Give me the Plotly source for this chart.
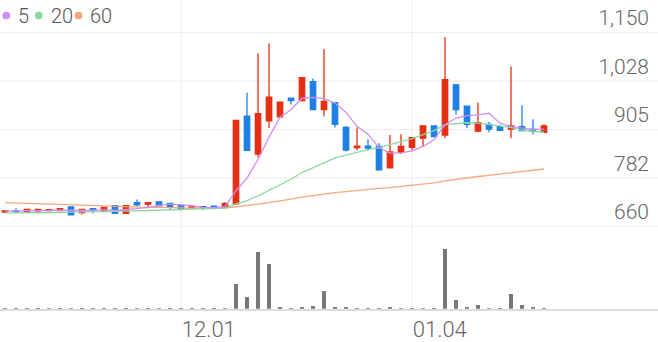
import plotly.graph_objects as go

# ---------------- data ----------------
opens = [696, 699, 697, 699, 700, 700, 709, 695, 705, 699,
         712, 693, 720, 716, 722, 718, 713, 707, 710, 711,
         708, 717, 939, 843, 927, 937, 984, 978, 1026, 955,
         973, 910, 859, 863, 862, 808, 848, 860, 883, 914,
         891, 1018, 964, 901, 918, 912, 906, 912, 905, 898]
highs = [701, 706, 704, 703, 702, 706, 709, 703, 706, 708,
         712, 712, 728, 721, 722, 718, 716, 712, 711, 712,
         721, 928, 998, 1098, 1123, 974, 984, 1036, 1034, 1108,
         973, 914, 910, 880, 870, 891, 893, 884, 914, 914,
         1139, 1020, 964, 973, 924, 916, 1064, 966, 931, 918]
lows = [693, 693, 693, 693, 698, 699, 689, 690, 693, 697,
        693, 693, 710, 706, 710, 704, 700, 705, 701, 703,
        706, 714, 852, 835, 909, 937, 968, 978, 955, 938,
        910, 849, 853, 852, 803, 806, 843, 853, 862, 887,
        883, 943, 908, 898, 898, 903, 883, 899, 893, 898]
closes = [699, 697, 703, 703, 702, 705, 689, 703, 701, 708,
          693, 712, 714, 720, 712, 710, 703, 710, 706, 707,
          718, 928, 852, 945, 987, 974, 978, 1036, 955, 976,
          918, 853, 863, 858, 803, 848, 862, 884, 914, 887,
          1031, 955, 918, 922, 906, 903, 914, 902, 900, 914]
ma5 = [699, 699, 699, 700, 700, 701, 700, 700, 700, 702,
       700, 702, 705, 708, 713, 716, 714, 712, 708, 707,
       710, 750, 782, 829, 885, 936, 955, 984, 986, 983,
       972, 948, 913, 893, 859, 845, 846, 851, 862, 879,
       917, 934, 940, 942, 946, 921, 912, 909, 905, 906]
ma20 = [694, 694, 694, 695, 695, 695, 696, 696, 697, 697,
        698, 698, 699, 700, 701, 702, 702, 703, 704, 705,
        706, 717, 725, 737, 751, 764, 779, 796, 808, 822,
        833, 840, 847, 854, 859, 866, 874, 882, 893, 902,
        917, 919, 922, 921, 917, 913, 910, 903, 901, 898]
ma60 = [720, 719, 718, 717, 716, 715, 714, 713, 712, 711,
        710, 709, 709, 708, 708, 707, 707, 706, 706, 706,
        706, 709, 712, 716, 720, 724, 729, 734, 738, 742,
        745, 748, 751, 754, 756, 758, 761, 764, 767, 770,
        775, 779, 782, 786, 789, 792, 796, 799, 802, 805]
volumes = [3, 2, 4, 3, 2, 3, 5, 3, 2, 4,
           5, 4, 6, 4, 5, 4, 3, 3, 2, 3,
           5, 256, 123, 573, 450, 17, 10, 23, 33, 183,
           20, 17, 10, 10, 13, 20, 13, 10, 7, 7,
           606, 90, 23, 40, 10, 7, 150, 43, 20, 7]
x_tick_idx = [16, 37]
x_tick_labels = ["12.01", "01.04"]
y_tick_vals = [660, 782.5, 905, 1027.5, 1150]
y_tick_labels = ["660", "782", "905", "1,028", "1,150"]
ma_periods = ["5", "20", "60"]
ma_colors = ["#cf8ff0", "#8cd9a0", "#f7a678"]

idx = list(range(len(closes)))

W, H = 658, 342
RED = "#e62e12"
BLUE = "#1c80e6"
FONT = "Roboto"
PX_PER_UNIT = 0.4
Y_BOTTOM_PX = 229.2
Y_MIN = 659.5

fig = go.Figure()

for vals, col in zip([ma60, ma20, ma5], [ma_colors[2], ma_colors[1], ma_colors[0]]):
    fig.add_trace(go.Scatter(x=idx, y=vals, mode="lines",
                             line=dict(color=col, width=1.3),
                             xaxis="x", yaxis="y", showlegend=False, hoverinfo="skip"))

fig.add_trace(go.Candlestick(
    x=idx, open=opens, high=highs, low=lows, close=closes,
    increasing=dict(line=dict(color=RED, width=1.3), fillcolor=RED),
    decreasing=dict(line=dict(color=BLUE, width=1.3), fillcolor=BLUE),
    whiskerwidth=0, xaxis="x", yaxis="y", showlegend=False))

fig.add_trace(go.Bar(x=idx, y=volumes, width=0.36, marker=dict(color="#777777", line=dict(width=0)),
                     xaxis="x2", yaxis="y2", showlegend=False))

xr = [-5 / 11, (W - 5) / 11]

shapes = []
for t in x_tick_idx:
    shapes.append(dict(type="line", xref="x", yref="paper", x0=t, x1=t,
                       y0=1 - 312.5 / H, y1=1, line=dict(color="#ececec", width=1), layer="below"))
for v in y_tick_vals:
    shapes.append(dict(type="line", xref="paper", yref="y", x0=0, x1=1, y0=v, y1=v,
                       line=dict(color="#ececec", width=1), layer="below"))

# legend dots
dot_cx = [6.3, 38.8, 78.5]
text_x = [15.5, 48.5, 87.5]
annotations = []
for cx, tx, lab, col in zip(dot_cx, text_x, ma_periods, ma_colors):
    r = 3.9
    shapes.append(dict(type="circle", xref="paper", yref="paper",
                       x0=(cx - r) / W, x1=(cx + r) / W,
                       y0=1 - (15.7 + r) / H, y1=1 - (15.7 - r) / H,
                       fillcolor=col, line=dict(width=0)))
    annotations.append(dict(text=lab, xref="paper", yref="paper", x=tx / W, y=1 - 16.3 / H,
                            xanchor="left", yanchor="middle", showarrow=False,
                            font=dict(family=FONT, size=20, color="#555555", weight=300)))

fig.update_layout(
    width=W, height=H,
    margin=dict(l=0, r=0, t=0, b=0),
    paper_bgcolor="white", plot_bgcolor="white",
    showlegend=False,
    bargap=0,
    xaxis=dict(domain=[0, 1], range=xr, anchor="y", showticklabels=False, showgrid=False,
               zeroline=False, showline=False, rangeslider=dict(visible=False), fixedrange=True),
    yaxis=dict(domain=[1 - Y_BOTTOM_PX / H, 1], range=[Y_MIN, Y_MIN + Y_BOTTOM_PX / PX_PER_UNIT],
               side="right", tickvals=y_tick_vals, ticktext=y_tick_labels,
               ticklabelposition="inside top", ticks="", showgrid=False,
               zeroline=False, showline=False,
               tickfont=dict(family=FONT, size=21, color="#666666", weight=300),
               ticklabelstandoff=6),
    xaxis2=dict(domain=[0, 1], range=xr, anchor="y2", matches="x",
                tickvals=x_tick_idx, ticktext=x_tick_labels, ticks="",
                ticklabelposition="outside right", showgrid=False, zeroline=False,
                showline=True, linecolor="#dcdcdc", linewidth=1.5,
                tickfont=dict(family=FONT, size=22, color="#666666", weight=300)),
    yaxis2=dict(domain=[1 - 312.5 / H, 1 - 251.7 / H], range=[0, max(volumes)],
                showticklabels=False, showgrid=False, zeroline=False, showline=False),
    shapes=shapes,
    annotations=annotations,
)

fig.write_html("out.html")
